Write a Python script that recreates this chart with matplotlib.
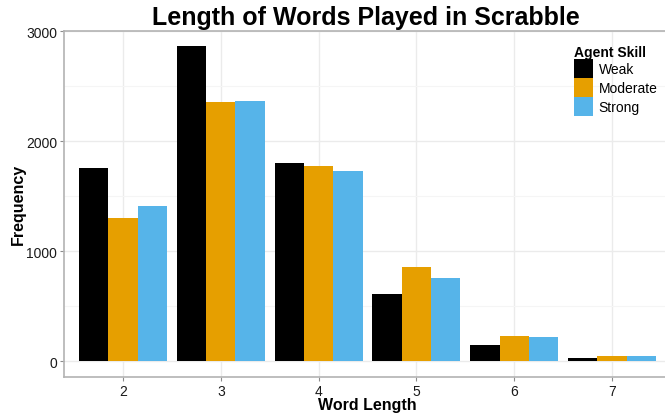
import matplotlib
matplotlib.use("Agg")
import matplotlib.pyplot as plt
import numpy as np
from matplotlib.patches import Patch
from matplotlib.ticker import MultipleLocator

plt.rcParams['font.family'] = ['Liberation Sans', 'DejaVu Sans']

categories = ["2", "3", "4", "5", "6", "7"]
weak = [1757, 2864, 1803, 611, 148, 28]
moderate = [1300, 2357, 1773, 857, 233, 45]
strong = [1413, 2369, 1730, 757, 218, 45]
series_names = ["Weak", "Moderate", "Strong"]
colors = ["#000000", "#E69F00", "#56B4E9"]

W, H = 665, 414
fig = plt.figure(figsize=(W/100, H/100), dpi=100)
left, right, top, bottom = 64.3, 670.7, 32.0, 378.0
ax = fig.add_axes([left/W, 1-bottom/H, (right-left)/W, (bottom-top)/H])

x = np.arange(len(categories))
w = 0.3
for i, (vals, c) in enumerate(zip([weak, moderate, strong], colors)):
    ax.bar(x + (i-1)*w, vals, width=w, color=c, zorder=3, linewidth=0)

ax.set_xlim(-0.6, 5.6)
ax.set_ylim(-143, 3003)
ax.set_xticks(x)
ax.set_xticklabels(categories)
ax.set_yticks([0, 1000, 2000, 3000])
ax.yaxis.set_minor_locator(MultipleLocator(500))
ax.grid(True, which='major', color='#ebebeb', linewidth=1.0, zorder=0)
ax.grid(True, which='minor', axis='y', color='#f5f5f5', linewidth=0.8, zorder=0)
ax.tick_params(axis='both', which='major', labelsize=10, color='#8c8c8c',
               length=3, pad=2, labelcolor='#1a1a1a')
ax.tick_params(axis='y', which='minor', length=0)
for s in ['left', 'bottom', 'top', 'right']:
    ax.spines[s].set_color('#b3b3b3')
    ax.spines[s].set_linewidth(1.2)

ax.set_xlabel("Word Length", fontsize=11.5, fontweight='bold')
ax.xaxis.set_label_coords(367/W, 1-398/H, transform=fig.transFigure)
ax.set_ylabel("Frequency", fontsize=11.5, fontweight='bold')
ax.yaxis.set_label_coords(25.5/W, 1-204/H, transform=fig.transFigure)
fig.text(366/W, 1-18/H, "Length of Words Played in Scrabble", ha='center', va='center',
         fontsize=18, fontweight='bold')

handles = [Patch(facecolor=c, edgecolor='none') for c in colors]
leg = ax.legend(handles, series_names, title="Agent Skill", loc='upper left',
                bbox_to_anchor=(574/W, 1-45.5/H), bbox_transform=fig.transFigure,
                frameon=False, fontsize=10, handlelength=1.37, handleheight=1.73,
                handletextpad=0.4, labelspacing=0.0, borderpad=0.0, borderaxespad=0.0)
leg.get_title().set_fontweight('bold')
leg.get_title().set_fontsize(10)
leg._legend_box.align = "left"

fig.savefig("out.png", dpi=100)
